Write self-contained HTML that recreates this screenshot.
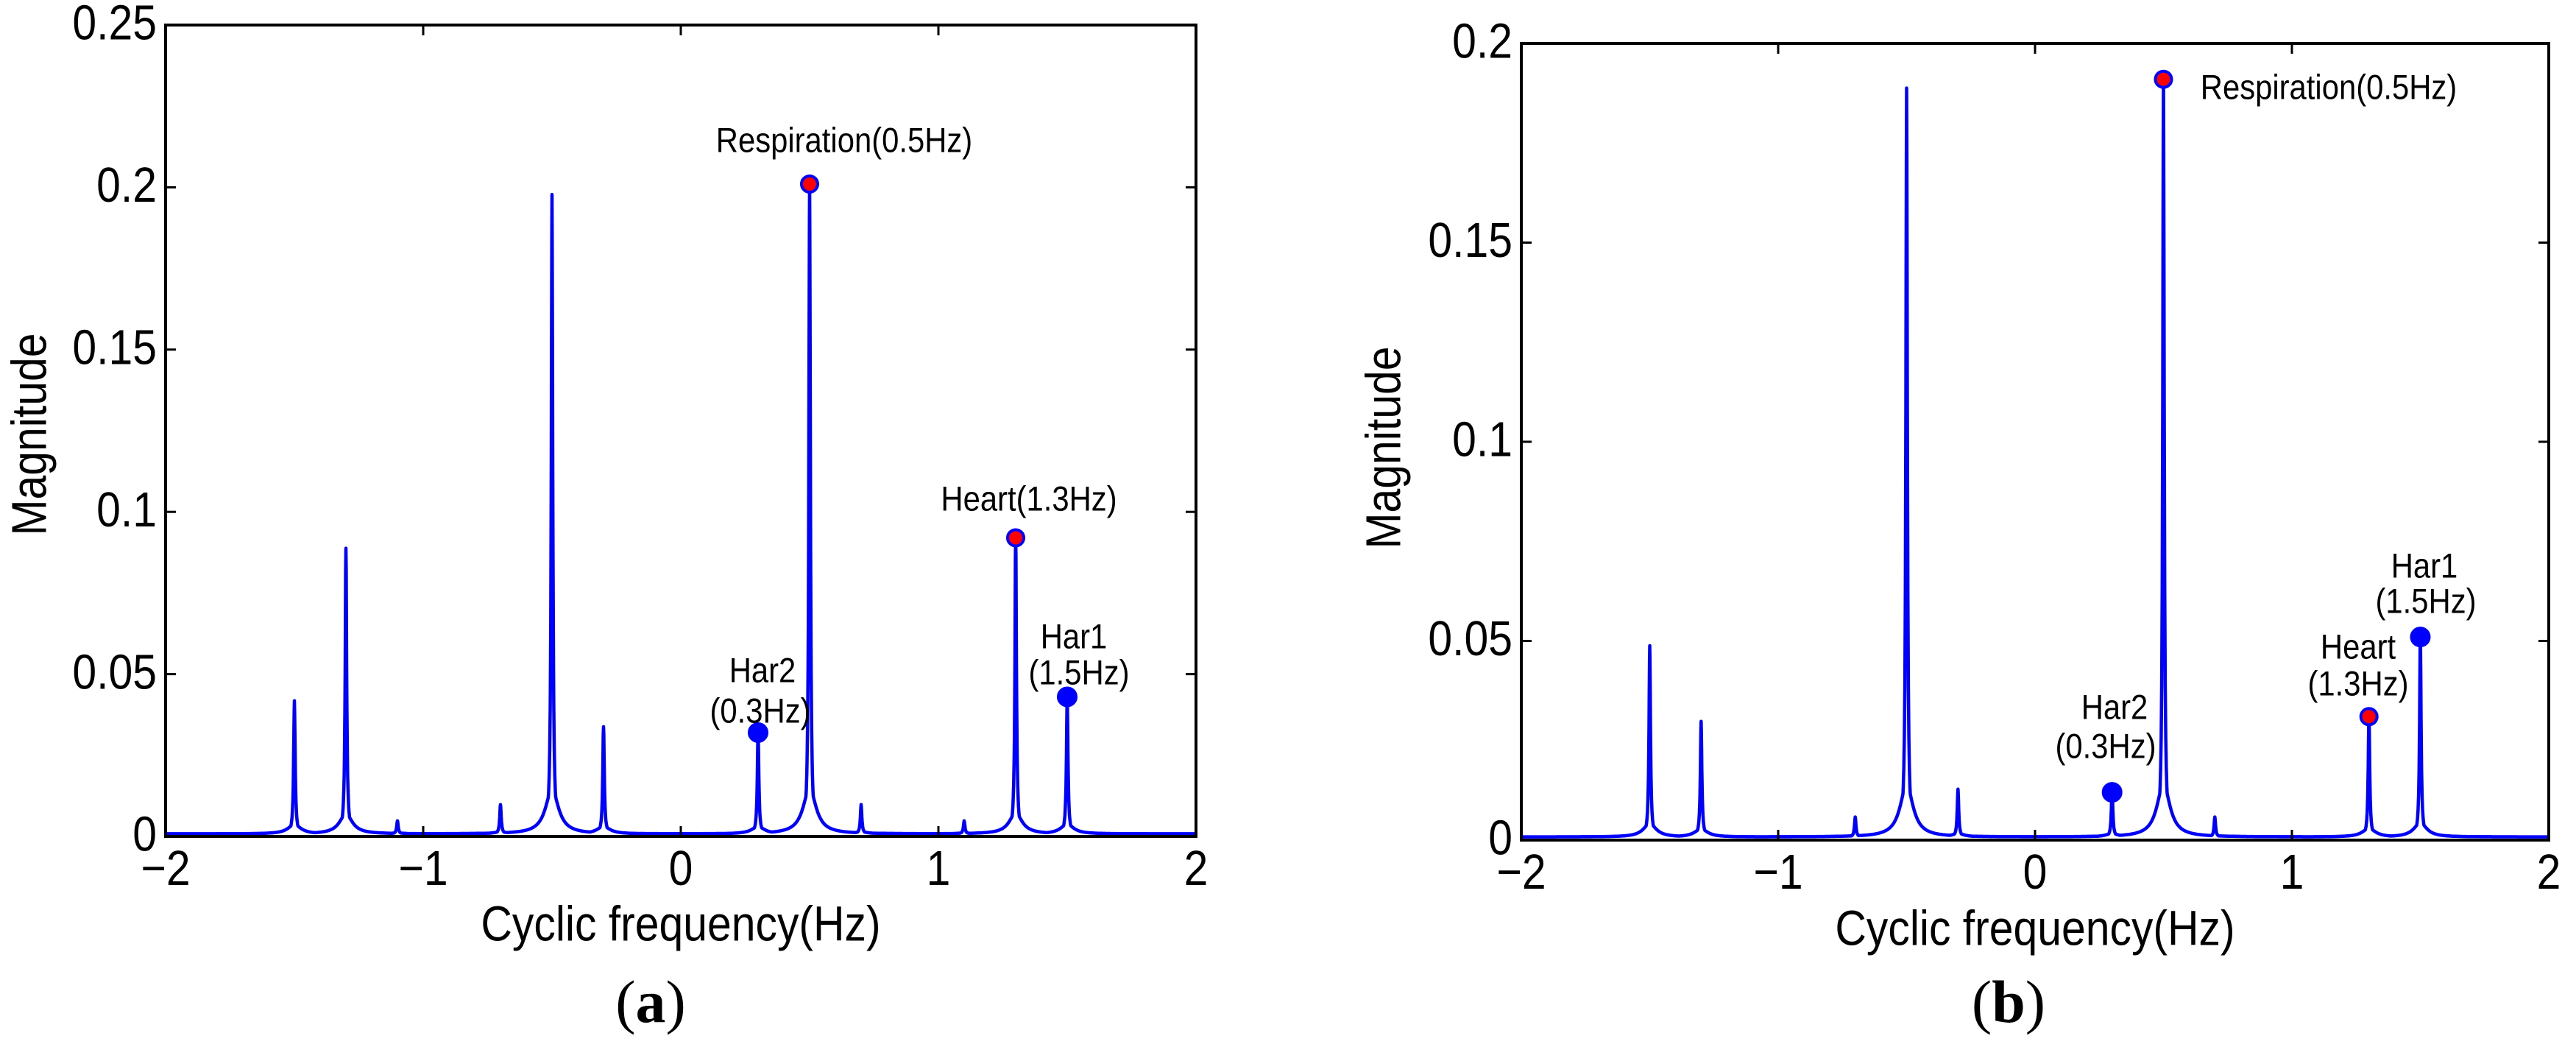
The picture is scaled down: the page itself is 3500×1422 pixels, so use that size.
<!DOCTYPE html>
<html><head><meta charset="utf-8"><style>
body{margin:0;background:#fff;}
svg{display:block;font-family:"Liberation Sans",sans-serif;}
</style></head><body>
<svg id="fig" width="3500" height="1422" viewBox="0 0 3500 1422" xmlns="http://www.w3.org/2000/svg"></svg>
<script>
// Panel (a) data
const peakFreqsA = [-1.5, -1.3, -1.1, -0.7, -0.5, -0.3, 0.3, 0.5, 0.7, 1.1, 1.3, 1.5];
const peakMagsA  = [0.041, 0.088, 0.004, 0.009, 0.197, 0.033, 0.032, 0.201, 0.009, 0.004, 0.092, 0.043];
const yTicksA = [0, 0.05, 0.1, 0.15, 0.2, 0.25];
const yTickLabelsA = ["0", "0.05", "0.1", "0.15", "0.2", "0.25"];
// Panel (b) data
const peakFreqsB = [-1.5, -1.3, -0.7, -0.5, -0.3, 0.3, 0.5, 0.7, 1.3, 1.5];
const peakMagsB  = [0.048, 0.029, 0.005, 0.188, 0.012, 0.012, 0.191, 0.005, 0.031, 0.051];
const yTicksB = [0, 0.05, 0.1, 0.15, 0.2];
const yTickLabelsB = ["0", "0.05", "0.1", "0.15", "0.2"];
const xTicks = [-2, -1, 0, 1, 2];
const xTickLabels = ["\u22122", "\u22121", "0", "1", "2"];
const markerFreqsA = [0.5, 1.3, 0.3, 1.5];
const markerMagsA  = [0.201, 0.092, 0.032, 0.043];
const markerRedA   = [true, true, false, false];
const markerFreqsB = [0.5, 1.3, 0.3, 1.5];
const markerMagsB  = [0.191, 0.031, 0.012, 0.051];
const markerRedB   = [true, true, false, false];

const NS = "http://www.w3.org/2000/svg";
const svg = document.getElementById("fig");
function mk(tag, attrs, parent){const e=document.createElementNS(NS,tag);for(const k in attrs)e.setAttribute(k,attrs[k]);(parent||svg).appendChild(e);return e;}
function txt(x,y,s,size,parent,opts){
  opts=opts||{};
  const g=mk("g",{transform:`translate(${x},${y}) ${opts.rot?`rotate(${opts.rot})`:''} scale(${opts.sx||0.95},1.08)`},parent);
  const t=mk("text",{x:0,y:0,"font-size":size,"text-anchor":opts.anchor||"middle","dominant-baseline":opts.base||"middle",fill:"#000"},g);
  t.textContent=s;
  return t;
}

function panel(cfg){
  const {L,R,T,B,ymax,freqs,mags,yt,ytl,mf,mm,mr,annots,name,letter,xtitle,ytitle,letterX}=cfg;
  const G=mk("g",{});
  
  
  const xs=f=>L+(f+2)/4*(R-L);
  const ys=v=>B-v/ymax*(B-T);
  let d="";
  const N=4000;
  for(let i=0;i<=N;i++){
    const f=-2+4*i/N;
    let v=0.0008;
    for(let k=0;k<freqs.length;k++){
      const df=f-freqs[k],h=mags[k];
      const narrow=(0.0035*0.0035)/(df*df+0.0035*0.0035);
      const wide=0.07*(0.03*0.03)/(df*df+0.03*0.03);
      v=Math.max(v,h*Math.max(narrow,wide)+0.0008);
    }
    d+=(i?"L":"M")+xs(f).toFixed(1)+" "+ys(Math.min(v,ymax)).toFixed(1);
  }
  const line=mk("path",{d:d,fill:"none",stroke:"#0000ff","stroke-width":4.5,"stroke-linejoin":"round"},G);
  
  
  const fr=mk("rect",{x:L,y:T,width:R-L,height:B-T,fill:"none",stroke:"#000","stroke-width":4},G);
  
  
  xTicks.forEach((v,i)=>{
    const x=xs(v);
    mk("line",{x1:x,y1:B,x2:x,y2:B-14,stroke:"#000","stroke-width":3},G);
    mk("line",{x1:x,y1:T,x2:x,y2:T+14,stroke:"#000","stroke-width":3},G);
    const t=txt(x,B+66,xTickLabels[i],62,G,{base:"alphabetic"});
    
    
  });
  yt.forEach((v,i)=>{
    const y=ys(v);
    mk("line",{x1:L,y1:y,x2:L+14,y2:y,stroke:"#000","stroke-width":3},G);
    mk("line",{x1:R,y1:y,x2:R-14,y2:y,stroke:"#000","stroke-width":3},G);
    const t=txt(L-12,y+2,ytl[i],62,G,{anchor:"end"});
    
    
  });
  mf.forEach((f,i)=>{
    const c=mk("circle",{cx:xs(f),cy:ys(mm[i]),r:mr[i]?11:13,fill:mr[i]?"#ff0000":"#0000ff",stroke:"#0000ff","stroke-width":mr[i]?4:2},G);
    
    
  });
  annots.forEach(a=>{
    const t=txt(a[0],a[1],a[2],44,G);
    
    
  });
  const xt=txt((L+R)/2,xtitle,"Cyclic frequency(Hz)",62,G);
  
  
  const yT=txt(ytitle[0],ytitle[1],"Magnitude",62,G,{rot:-90});
  
  
  const g2=mk("text",{x:letterX,y:1388,"font-size":82,"text-anchor":"middle","font-family":"Liberation Serif, serif"},G);
  g2.innerHTML='(<tspan font-weight="bold">'+letter+'</tspan>)';
  
  
}

panel({L:225,R:1625,T:34,B:1136,ymax:0.25,freqs:peakFreqsA,mags:peakMagsA,yt:yTicksA,ytl:yTickLabelsA,
  mf:markerFreqsA,mm:markerMagsA,mr:markerRedA,name:"panel-a",letter:"a",letterX:884,
  xtitle:1260,ytitle:[45,590],
  annots:[[1147,194,"Respiration(0.5Hz)"],[1398,681,"Heart(1.3Hz)"],[1459,868,"Har1"],[1466,917,"(1.5Hz)"],[1036,914,"Har2"],[1033,969,"(0.3Hz)"]]});
panel({L:2067,R:3463,T:59,B:1141,ymax:0.2,freqs:peakFreqsB,mags:peakMagsB,yt:yTicksB,ytl:yTickLabelsB,
  mf:markerFreqsB,mm:markerMagsB,mr:markerRedB,name:"panel-b",letter:"b",letterX:2729,
  xtitle:1266,ytitle:[1885,608],
  annots:[[3164,122,"Respiration(0.5Hz)"],[3294,772,"Har1"],[3296,820,"(1.5Hz)"],[3204,882,"Heart"],[3204,932,"(1.3Hz)"],[2873,964,"Har2"],[2861,1017,"(0.3Hz)"]]});
</script>
</body></html>
